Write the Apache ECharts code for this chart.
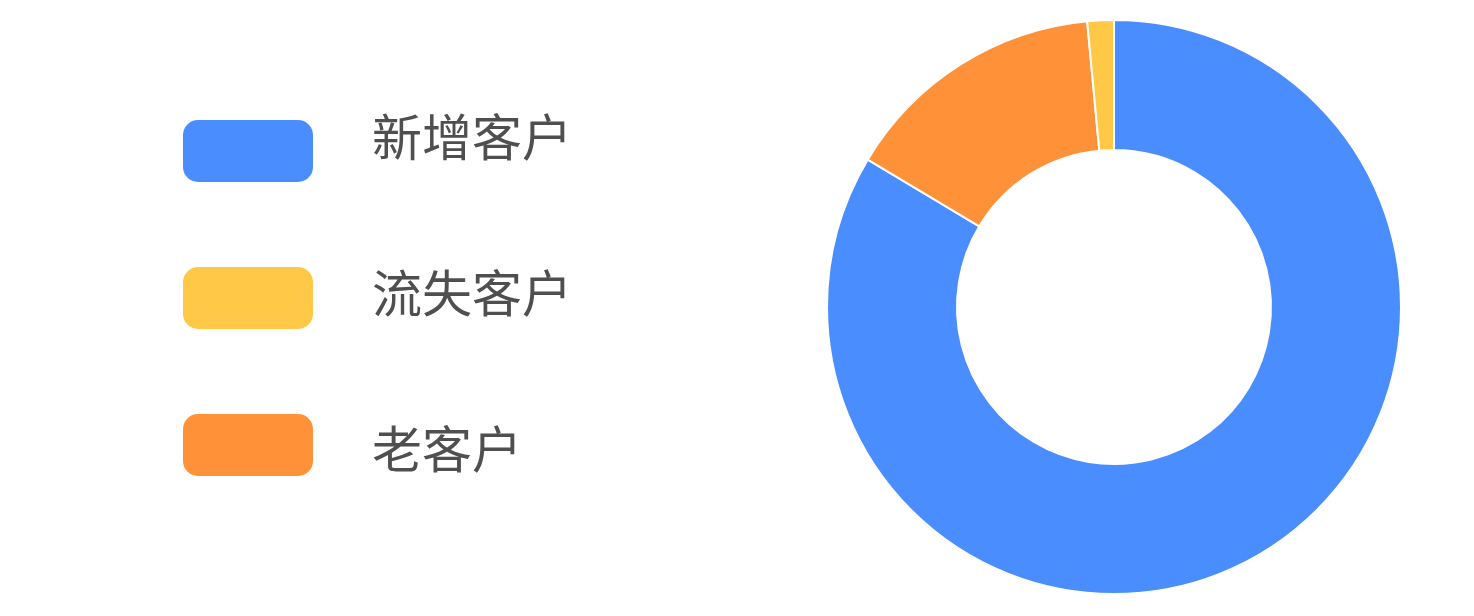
<!DOCTYPE html>
<html>
<head>
<meta charset="utf-8">
<script src="https://cdn.jsdelivr.net/npm/echarts@6/dist/echarts.min.js"></script>
<style>html,body{margin:0;padding:0;background:#fff;}#c{width:1474px;height:616px;}</style>
</head>
<body>
<div id="c"></div>
<script>
const legendOrder = ['新增客户', '流失客户', '老客户'];
const sliceNames = ['新增客户', '老客户', '流失客户'];
const sliceValues = [56, 10, 1];
const sliceColors = ['#4a8dff', '#ff9239', '#ffc947'];

const chart = echarts.init(document.getElementById('c'));
chart.setOption({
  animation: false,
  color: sliceColors,
  legend: [
    {
      orient: 'vertical', left: 181, top: 118, padding: 0,
      itemWidth: 132, itemHeight: 64, itemGap: 81,
      icon: 'roundRect', data: legendOrder,
      formatter: () => '', textStyle: { fontSize: 1 },
      selectedMode: false
    },
    {
      orient: 'vertical', left: 366, top: 112, padding: 0,
      itemWidth: 1, itemHeight: 50, itemGap: 106,
      icon: 'none', data: legendOrder,
      textStyle: { fontSize: 50, lineHeight: 50, color: '#4f4f4f', fontFamily: 'Noto Sans CJK SC' },
      selectedMode: false
    }
  ],
  series: [{
    type: 'pie',
    center: [1114, 307],
    radius: [157, 287],
    startAngle: 90,
    clockwise: true,
    label: { show: false },
    labelLine: { show: false },
    itemStyle: { borderColor: '#fff', borderWidth: 2 },
    emphasis: { disabled: true },
    data: sliceNames.map((n, i) => ({ name: n, value: sliceValues[i], itemStyle: { color: sliceColors[i] } }))
  }]
});
</script>
</body>
</html>
